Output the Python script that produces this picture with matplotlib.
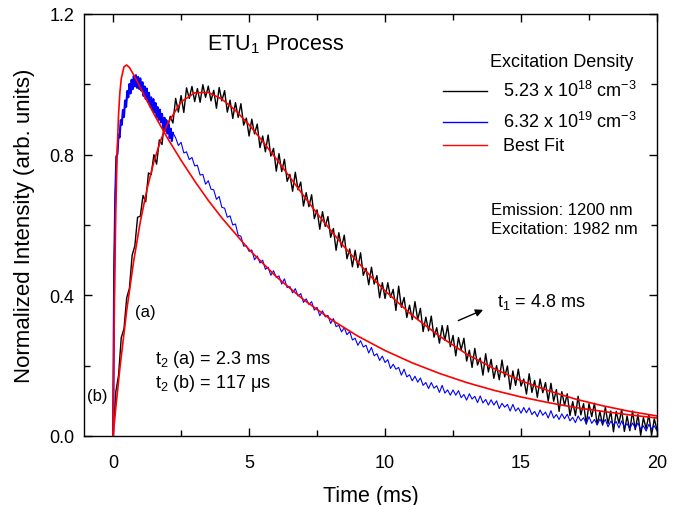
import numpy as np
import matplotlib
matplotlib.use("Agg")
import matplotlib.pyplot as plt
from matplotlib.ticker import MultipleLocator, FormatStrFormatter

plt.rcParams['font.family'] = ['Liberation Sans', 'DejaVu Sans']
plt.rcParams['mathtext.fontset'] = 'custom'
plt.rcParams['mathtext.rm'] = 'Liberation Sans'
plt.rcParams['mathtext.it'] = 'Liberation Sans:italic'

# ---------------- data ----------------
# black trace: 5.23e18 cm^-3, sampled every 0.1 ms from 0 to 20 ms (values x1000)
black_vals = [
    0, 126, 172, 280, 305, 393, 420, 514, 541, 622, 625, 684, 666, 748, 743, 800, 773, 842, 829, 906,
    873, 909, 890, 960, 921, 968, 920, 990, 960, 994, 951, 988, 949, 999, 963, 995, 953, 983, 932, 991,
    953, 982, 921, 955, 903, 948, 906, 945, 884, 904, 853, 901, 859, 887, 820, 853, 808, 856, 796, 818,
    753, 803, 752, 787, 724, 744, 696, 750, 700, 722, 654, 692, 652, 686, 618, 643, 588, 638, 596, 624,
    565, 590, 528, 578, 537, 571, 504, 532, 481, 528, 479, 521, 457, 477, 430, 480, 432, 456, 393, 436,
    391, 436, 394, 417, 357, 426, 366, 394, 337, 372, 331, 382, 331, 363, 297, 338, 299, 341, 281, 308,
    264, 314, 272, 314, 254, 286, 228, 280, 245, 278, 213, 244, 195, 249, 202, 222, 173, 234, 182, 218,
    164, 200, 160, 216, 168, 199, 133, 185, 144, 190, 142, 162, 119, 177, 124, 158, 110, 162, 123, 152,
    99, 150, 99, 132, 70, 126, 87, 120, 58, 98, 58, 113, 60, 92, 34, 92, 55, 93, 32, 70,
    31, 82, 35, 71, 12, 70, 36, 75, 13, 57, 15, 71, 18, 61, 2, 52, 21, 61, 2, 49,
    17,
]
black_step = 0.1

# blue trace: 6.32e19 cm^-3, dense part 0..2.2 ms every 0.04 ms (values x1000)
blue_early_vals = [
    0, 480, 685, 795, 802, 857, 849, 898, 885, 927, 907, 954, 936, 981, 963, 1001, 974, 1013, 986, 1024,
    994, 1026, 990, 1021, 987, 1017, 982, 1006, 967, 994, 958, 988, 950, 976, 937, 963, 929, 958, 921, 947,
    907, 935, 899, 928, 892, 916, 877, 904, 868, 898, 860, 886, 847, 874, 839, 862,
]
blue_early_step = 0.04
# blue trace, 2.3..20 ms every 0.1 ms (values x1000)
blue_late_start = 2.3
blue_late_vals = [
    848, 826, 835, 805, 808, 786, 792, 768, 770, 742, 744, 716, 726, 702, 700, 673, 681, 650, 648, 622,
    626, 600, 603, 571, 568, 540, 541, 525, 529, 501, 512, 492, 500, 474, 480, 457, 470, 451, 455, 432,
    447, 422, 425, 407, 419, 398, 405, 380, 390, 374, 382, 358, 366, 342, 356, 339, 343, 320, 334, 311,
    315, 296, 308, 288, 297, 273, 278, 258, 271, 253, 258, 236, 252, 228, 234, 215, 227, 209, 217, 192,
    204, 190, 195, 173, 190, 168, 174, 157, 170, 153, 165, 144, 152, 135, 152, 136, 143, 124, 144, 122,
    131, 116, 131, 116, 129, 109, 118, 102, 120, 105, 113, 95, 114, 94, 104, 88, 103, 88, 100, 78,
    93, 82, 90, 71, 90, 71, 80, 65, 81, 66, 80, 61, 70, 55, 74, 59, 68, 51, 72, 51,
    61, 47, 63, 49, 62, 43, 53, 38, 57, 43, 52, 35, 55, 36, 47, 32, 48, 34, 47, 26,
    42, 32, 41, 23, 43, 26, 35, 21, 37, 23, 37, 19, 29, 14, 33, 20, 29, 14,
]
blue_late_step = 0.1

# best fit curves
fit_black_t = [0, 0.1, 0.25, 0.5, 0.75, 1, 1.25, 1.5, 1.75, 2, 2.5, 3, 3.5, 4, 4.5, 5, 5.5, 6, 6.5, 7,
               7.5, 8, 8.5, 9, 9.5, 10, 11, 12, 13, 14, 15, 16, 17, 18, 19, 20]
fit_black_v = [0, 0.081, 0.193, 0.357, 0.494, 0.609, 0.703, 0.780, 0.841, 0.888, 0.950, 0.976, 0.977,
               0.958, 0.926, 0.885, 0.838, 0.788, 0.736, 0.684, 0.633, 0.585, 0.538, 0.494, 0.452,
               0.413, 0.343, 0.284, 0.233, 0.192, 0.157, 0.129, 0.105, 0.086, 0.070, 0.057]
fit_blue_t = [0, 0.02, 0.05, 0.1, 0.15, 0.2, 0.25, 0.3, 0.4, 0.5, 0.6, 0.8, 1.0, 1.5, 2, 2.5, 3, 3.5,
              4, 5, 6, 7, 8, 9, 10, 11, 12, 13, 14, 15, 16, 17, 18, 19, 20]
fit_blue_v = [0, 0.178, 0.393, 0.647, 0.810, 0.913, 0.977, 1.016, 1.050, 1.055, 1.048, 1.021, 0.990,
              0.916, 0.847, 0.784, 0.725, 0.670, 0.620, 0.530, 0.453, 0.388, 0.332, 0.284, 0.243,
              0.208, 0.178, 0.152, 0.130, 0.111, 0.095, 0.081, 0.070, 0.060, 0.051]

legend_title = "Excitation Density"
legend_labels = [r"5.23 x 10$^{18}$ cm$^{-3}$", r"6.32 x 10$^{19}$ cm$^{-3}$", "Best Fit"]
legend_colors = ['black', '#0000ff', '#ff0000']

# ---------------- build arrays ----------------
t_black = np.arange(len(black_vals)) * black_step
y_black = np.array(black_vals) / 1000.0
t_blue_early = np.arange(len(blue_early_vals)) * blue_early_step
y_blue_early = np.array(blue_early_vals) / 1000.0
t_blue = np.concatenate([t_blue_early,
                         blue_late_start + np.arange(len(blue_late_vals)) * blue_late_step])
y_blue = np.concatenate([blue_early_vals, blue_late_vals]) / 1000.0

# ---------------- figure ----------------
fig = plt.figure(figsize=(6.8, 5.06), dpi=100)
ax = fig.add_axes([84/680, 1-437/506, 573/680, 422/506])

ax.plot(t_black, y_black, color='black', lw=1.0)
ax.plot(t_blue, y_blue, color='#0000ff', lw=0.8)
ax.plot(t_blue_early, y_blue_early, color='#0000ff', lw=1.5)
ax.plot(fit_black_t, fit_black_v, color='#ff0000', lw=1.2)
ax.plot(fit_blue_t, fit_blue_v, color='#ff0000', lw=1.2)

ax.set_xlim(-1.07, 20)
ax.set_ylim(0, 1.2)
ax.xaxis.set_major_locator(MultipleLocator(5))
ax.xaxis.set_minor_locator(MultipleLocator(2.5))
ax.yaxis.set_major_locator(MultipleLocator(0.4))
ax.yaxis.set_minor_locator(MultipleLocator(0.2))
ax.yaxis.set_major_formatter(FormatStrFormatter('%.1f'))
ax.tick_params(which='both', direction='in', top=True, right=True, labelsize=13, width=1)
ax.tick_params(which='major', length=6, pad=7)
ax.tick_params(axis='x', which='major', pad=13)
ax.tick_params(which='minor', length=4)
for s in ax.spines.values():
    s.set_linewidth(1.0)

ax.set_xlabel('Time (ms)', fontsize=15.5, labelpad=10)
ax.set_ylabel('Normalized Intensity (arb. units)', fontsize=16, labelpad=10)

# legend (placed by hand, as in the original figure)
tr = ax.transAxes
ax.text(0.958, 0.8768, legend_title, transform=tr, fontsize=13, ha='right', va='baseline')
key_x0, key_x1, text_x = 0.6265, 0.7033, 0.7312
key_y = [0.8175, 0.7441, 0.6896]
for lab, col, yk in zip(legend_labels, legend_colors, key_y):
    ax.add_line(plt.Line2D([key_x0, key_x1], [yk, yk], transform=tr, color=col, lw=1.0))
    ax.text(text_x, yk - 0.0118, lab, transform=tr, fontsize=13, ha='left', va='baseline')

ax.text(3.45, 1.115, r'ETU$_\mathregular{1}$ Process', fontsize=15.5, ha='left', va='center')
ax.text(13.9, 0.645, 'Emission: 1200 nm', fontsize=12, ha='left', va='center')
ax.text(13.9, 0.589, 'Excitation: 1982 nm', fontsize=12, ha='left', va='center')
ax.text(14.1, 0.384, r't$_\mathregular{1}$ = 4.8 ms', fontsize=13, ha='left', va='center')
ax.annotate('', xy=(13.7, 0.362), xytext=(12.6, 0.325),
            arrowprops=dict(arrowstyle='-|>', color='black', lw=1.0, mutation_scale=11))
ax.text(0.8, 0.355, '(a)', fontsize=12, ha='left', va='center')
ax.text(-0.95, 0.114, '(b)', fontsize=12, ha='left', va='center')
ax.text(1.53, 0.219, r't$_\mathregular{2}$ (a) = 2.3 ms', fontsize=13, ha='left', va='center')
ax.text(1.53, 0.152, r't$_\mathregular{2}$ (b) = 117 μs', fontsize=13, ha='left', va='center')

fig.savefig('out.png', dpi=100)
